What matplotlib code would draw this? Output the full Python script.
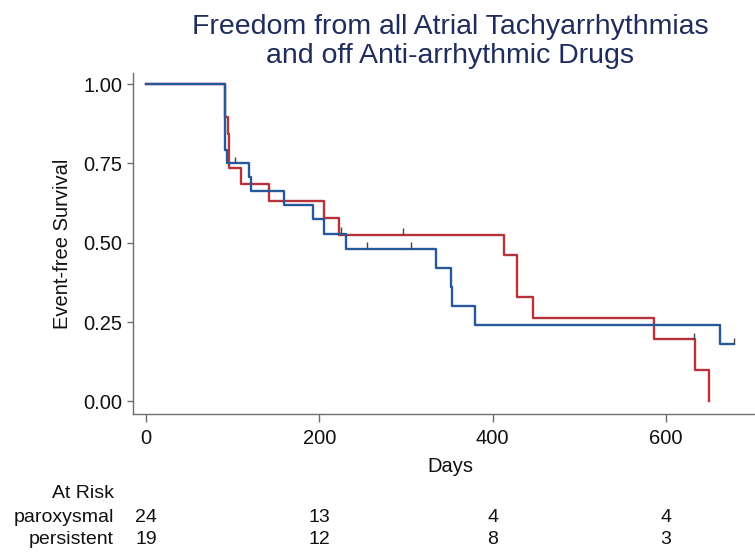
import numpy as np
import matplotlib
matplotlib.use("Agg")
import matplotlib.pyplot as plt
import matplotlib.transforms as mtransforms

plt.rcParams['font.family'] = ['Liberation Sans', 'DejaVu Sans']

# Kaplan-Meier steps (time in days, survival after the step)
parox_t = [0, 91, 93, 119, 121, 159, 193, 205, 231, 335, 352, 353, 380, 662, 678]
parox_s = [1.0, 0.792, 0.750, 0.706, 0.662, 0.618, 0.574, 0.529, 0.481, 0.421, 0.361, 0.301, 0.240, 0.180, 0.180]
parox_cens = [103, 225, 255, 306, 678]

pers_t = [0, 91, 95, 96, 110, 142, 205, 223, 413, 428, 446, 586, 634, 650]
pers_s = [1.0, 0.895, 0.842, 0.737, 0.684, 0.632, 0.579, 0.526, 0.460, 0.329, 0.263, 0.197, 0.099, 0.0]
pers_cens = [296, 632]

risk_days = [0, 200, 400, 600]
risk_parox = [24, 13, 4, 4]
risk_pers = [19, 12, 8, 3]

red = '#b8323c'
blue = '#27599a'
grey = '#6e6e6e'
txt = '#111111'

fig = plt.figure(figsize=(7.55, 5.58), dpi=100)
ax = fig.add_axes([0.1766, 0.2572, 0.8234, 0.612])


def surv_at(t, times, surv):
    i = np.searchsorted(times, t, side='right') - 1
    return np.asarray(surv)[i]


for times, surv, cens, col in [(pers_t, pers_s, pers_cens, red),
                               (parox_t, parox_s, parox_cens, blue)]:
    ax.step(times, surv, where='post', color=col, lw=1.7, zorder=3)
    cy = np.array([surv_at(c, times, surv) for c in cens])
    ax.vlines(cens, cy, cy + 0.02, color='#444444', lw=1.0, zorder=4)

ax.set_xlim(-14.65, 702.7)
ax.set_ylim(-0.041, 1.035)
ax.set_xticks(risk_days)
ax.set_yticks([0, 0.25, 0.5, 0.75, 1.0])
ax.set_yticklabels(['0.00', '0.25', '0.50', '0.75', '1.00'])

for s in ['top', 'right']:
    ax.spines[s].set_visible(False)
for s in ['left', 'bottom']:
    ax.spines[s].set_color(grey)
    ax.spines[s].set_linewidth(1.0)
ax.tick_params(axis='both', colors=grey, labelcolor=txt, labelsize=14.5, width=1.0)
ax.tick_params(axis='x', length=5.5, pad=5)
ax.tick_params(axis='y', length=4, pad=4)

ax.set_xlabel('Days', fontsize=14.5, color=txt)
ax.xaxis.set_label_coords((450 - 133.3) / 621.7, 0, transform=None)
ax.xaxis.label.set_transform(mtransforms.blended_transform_factory(ax.transAxes, fig.transFigure))
ax.xaxis.label.set_position(((450 - 133.3) / 621.7, 1 - 466 / 558))
ax.xaxis.label.set_va('center')
ax.set_ylabel('Event-free Survival', fontsize=14.5, color=txt, labelpad=8)

# title, two centred lines
fig.text(450 / 755, 1 - 34 / 558, 'Freedom from all Atrial Tachyarrhythmias',
         ha='center', va='baseline', fontsize=20.5, color='#1f2d5c')
fig.text(450 / 755, 1 - 63 / 558, 'and off Anti-arrhythmic Drugs',
         ha='center', va='baseline', fontsize=20.5, color='#1f2d5c')

# at-risk table below the axis
trans = mtransforms.blended_transform_factory(ax.transData, fig.transFigure)
fig.text(114 / 755, 1 - 493 / 558, 'At Risk', ha='right', va='center', fontsize=14, color=txt)
fig.text(114 / 755, 1 - 517 / 558, 'paroxysmal', ha='right', va='center', fontsize=14, color=txt)
fig.text(114 / 755, 1 - 540 / 558, 'persistent', ha='right', va='center', fontsize=14, color=txt)
for d, a, b in zip(risk_days, risk_parox, risk_pers):
    ax.text(d, 1 - 517 / 558, str(a), transform=trans, ha='center', va='center', fontsize=14, color=txt)
    ax.text(d, 1 - 540 / 558, str(b), transform=trans, ha='center', va='center', fontsize=14, color=txt)

fig.savefig('out.png', dpi=100)
